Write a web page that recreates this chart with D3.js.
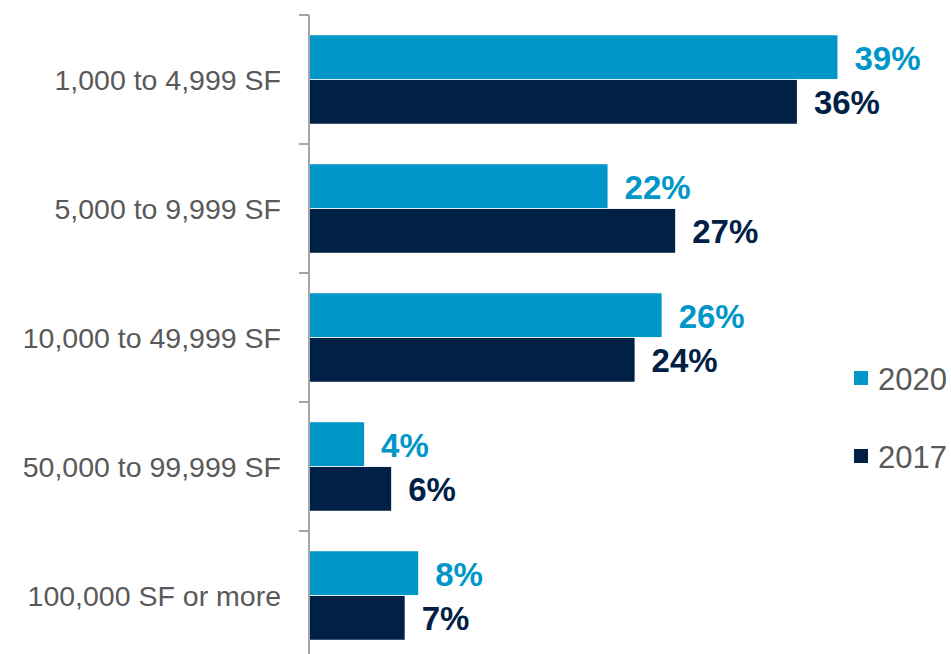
<!DOCTYPE html>
<html>
<head>
<meta charset="utf-8">
<script src="https://cdn.jsdelivr.net/npm/d3@7"></script>
<style>
  html, body { margin: 0; padding: 0; background: #fff; }
  svg { display: block; }
</style>
</head>
<body>
<svg id="chart" width="951" height="654"></svg>
<script>
const categories = ['1,000 to 4,999 SF', '5,000 to 9,999 SF', '10,000 to 49,999 SF', '50,000 to 99,999 SF', '100,000 SF or more']
const seriesKeys = ['2020', '2017']
const values2020 = [39, 22, 26, 4, 8]
const values2017 = [36, 27, 24, 6, 7]

const colors = { '2020': '#0096c8', '2017': '#002145' }
const FONT = '"Liberation Sans", Arial, sans-serif'

const width = 951
const height = 654
const axisX = 309

const rows = categories.map((c, i) => ({ cat: c, '2020': values2020[i], '2017': values2017[i] }))

const svg = d3.select('#chart')

const yScale = d3.scaleBand()
    .domain(categories)
    .range([15, 660])
    .paddingInner(0.3)
    .paddingOuter(0.15)

const ySub = d3.scaleBand()
    .domain(seriesKeys)
    .range([0, yScale.bandwidth()])
    .padding(0.02)

const xScale = d3.scaleLinear()
    .domain([0, 40])
    .range([310, 851])

// axis line with ticks at band boundaries
const step = yScale.step()
const tickYs = categories.map(c => yScale(c) - step * 0.15)
const axisG = svg.append('g').attr('class', 'y-axis')
axisG.append('line')
    .attr('x1', axisX).attr('x2', axisX)
    .attr('y1', 15).attr('y2', height)
    .attr('stroke', '#a6a6a6')
    .attr('stroke-width', 2)
axisG.selectAll('line.tick')
    .data(tickYs)
    .join('line')
    .attr('class', 'tick')
    .attr('x1', 299).attr('x2', axisX)
    .attr('y1', d => d).attr('y2', d => d)
    .attr('stroke', '#a6a6a6')
    .attr('stroke-width', 2)

// category labels
svg.append('g')
    .selectAll('text')
    .data(categories)
    .join('text')
    .attr('x', 281)
    .attr('y', d => yScale(d) + yScale.bandwidth() / 2)
    .attr('text-anchor', 'end')
    .attr('dominant-baseline', 'central')
    .attr('font-family', FONT)
    .attr('font-size', 28.5)
    .attr('fill', '#595959')
    .text(d => d)

// bars
const groups = svg.append('g')
    .selectAll('g.cat')
    .data(rows)
    .join('g')
    .attr('class', 'cat')
    .attr('transform', d => `translate(0,${yScale(d.cat)})`)

groups.selectAll('rect')
    .data(d => seriesKeys.map(k => ({ key: k, value: d[k] })))
    .join('rect')
    .attr('x', xScale(0))
    .attr('y', d => ySub(d.key))
    .attr('width', d => xScale(d.value) - xScale(0))
    .attr('height', ySub.bandwidth())
    .attr('fill', d => colors[d.key])

groups.selectAll('text')
    .data(d => seriesKeys.map(k => ({ key: k, value: d[k] })))
    .join('text')
    .attr('x', d => xScale(d.value) + 17)
    .attr('y', d => ySub(d.key) + ySub.bandwidth() / 2 + 1)
    .attr('dominant-baseline', 'central')
    .attr('font-family', FONT)
    .attr('font-weight', 'bold')
    .attr('font-size', 33)
    .attr('fill', d => colors[d.key])
    .text(d => d.value + '%')

// legend
const legendYs = { '2020': 378, '2017': 456 }
const legend = svg.append('g')
    .selectAll('g')
    .data(seriesKeys)
    .join('g')
    .attr('transform', d => `translate(854,${legendYs[d]})`)
legend.append('rect')
    .attr('x', 0).attr('y', -7)
    .attr('width', 14).attr('height', 14)
    .attr('fill', d => colors[d])
legend.append('text')
    .attr('x', 24)
    .attr('y', 1)
    .attr('dominant-baseline', 'central')
    .attr('font-family', FONT)
    .attr('font-size', 31)
    .attr('fill', '#595959')
    .text(d => d)
</script>
</body>
</html>
